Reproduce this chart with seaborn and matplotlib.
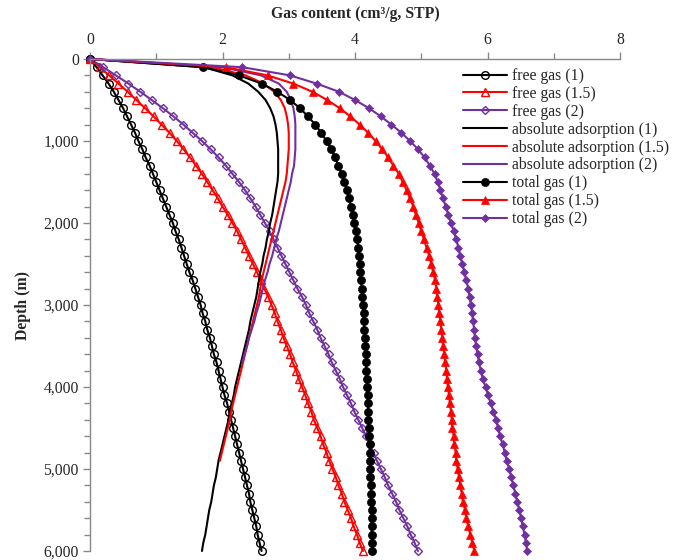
import matplotlib
matplotlib.use("Agg")
import matplotlib.pyplot as plt
import seaborn as sns
from matplotlib.ticker import FuncFormatter, MultipleLocator

depth = [0, 100, 200, 300, 400, 500, 600, 700, 800, 900, 1000, 1100, 1200, 1300, 1400,
         1500, 1600, 1700, 1800, 1900, 2000, 2100, 2200, 2300, 2400, 2500, 2600, 2700,
         2800, 2900, 3000, 3100, 3200, 3300, 3400, 3500, 3600, 3700, 3800, 3900, 4000,
         4100, 4200, 4300, 4400, 4500, 4600, 4700, 4800, 4900, 5000, 5100, 5200, 5300,
         5400, 5500, 5600, 5700, 5800, 5900, 6000]

free_1 = [0.00, 0.10, 0.19, 0.28, 0.36, 0.43, 0.50, 0.56, 0.62, 0.68, 0.73, 0.79, 0.84,
          0.90, 0.95, 1.00, 1.05, 1.10, 1.15, 1.20, 1.25, 1.29, 1.34, 1.38, 1.42, 1.46,
          1.50, 1.55, 1.59, 1.63, 1.67, 1.70, 1.74, 1.77, 1.81, 1.84, 1.87, 1.91, 1.94,
          1.97, 2.00, 2.03, 2.07, 2.10, 2.13, 2.16, 2.19, 2.22, 2.25, 2.28, 2.31, 2.34,
          2.37, 2.40, 2.42, 2.45, 2.48, 2.51, 2.53, 2.56, 2.59]

free_15 = [0.00, 0.15, 0.29, 0.43, 0.57, 0.70, 0.83, 0.96, 1.08, 1.20, 1.31, 1.41, 1.51,
           1.60, 1.69, 1.77, 1.85, 1.93, 2.00, 2.08, 2.15, 2.22, 2.28, 2.34, 2.40, 2.46,
           2.52, 2.58, 2.63, 2.69, 2.74, 2.79, 2.83, 2.88, 2.92, 2.97, 3.02, 3.06, 3.11,
           3.15, 3.20, 3.25, 3.29, 3.34, 3.38, 3.43, 3.48, 3.52, 3.57, 3.61, 3.66, 3.71,
           3.75, 3.80, 3.84, 3.89, 3.94, 3.98, 4.03, 4.07, 4.12]

free_2 = [0.00, 0.20, 0.39, 0.58, 0.76, 0.93, 1.10, 1.26, 1.41, 1.55, 1.69, 1.82, 1.94,
          2.05, 2.15, 2.25, 2.34, 2.42, 2.50, 2.57, 2.64, 2.71, 2.77, 2.83, 2.89, 2.95,
          3.01, 3.07, 3.13, 3.20, 3.26, 3.31, 3.37, 3.43, 3.48, 3.54, 3.60, 3.65, 3.71,
          3.77, 3.82, 3.88, 3.94, 3.99, 4.05, 4.11, 4.16, 4.22, 4.28, 4.33, 4.39, 4.45,
          4.50, 4.56, 4.62, 4.67, 4.73, 4.79, 4.84, 4.90, 4.95]

abs_1 = [0.00, 1.72, 2.15, 2.39, 2.54, 2.65, 2.72, 2.77, 2.80, 2.82, 2.83, 2.84, 2.84,
         2.84, 2.84, 2.83, 2.81, 2.79, 2.77, 2.75, 2.72, 2.70, 2.67, 2.65, 2.62, 2.60,
         2.57, 2.55, 2.53, 2.51, 2.48, 2.45, 2.42, 2.40, 2.37, 2.34, 2.31, 2.28, 2.25,
         2.22, 2.19, 2.17, 2.14, 2.11, 2.09, 2.06, 2.03, 2.00, 1.97, 1.94, 1.92, 1.90,
         1.87, 1.85, 1.83, 1.80, 1.78, 1.76, 1.74, 1.71, 1.69]

abs_15 = [0.00, 1.85, 2.35, 2.62, 2.78, 2.88, 2.94, 2.97, 2.99, 3.00, 3.00, 3.00, 2.99,
          2.98, 2.97, 2.95, 2.92, 2.89, 2.86, 2.83, 2.80, 2.77, 2.74, 2.71, 2.68, 2.65,
          2.62, 2.59, 2.57, 2.55, 2.52, 2.49, 2.46, 2.43, 2.40, 2.37, 2.34, 2.31, 2.28,
          2.25, 2.22, 2.19, 2.16, 2.13, 2.11, 2.08, 2.05, 2.02, 1.99, 1.96]

abs_2 = [0.00, 2.00, 2.58, 2.85, 2.97, 3.03, 3.07, 3.09, 3.10, 3.10, 3.10, 3.10, 3.09,
         3.08, 3.05, 3.03, 3.00, 2.97, 2.94, 2.91, 2.88, 2.85, 2.81, 2.78, 2.75, 2.71,
         2.68, 2.64, 2.61, 2.58, 2.55, 2.51, 2.48, 2.44, 2.40, 2.37, 2.33, 2.30]

total_1 = [0.00, 1.71, 2.25, 2.59, 2.83, 3.02, 3.17, 3.29, 3.40, 3.49, 3.57, 3.64, 3.70,
           3.75, 3.80, 3.84, 3.88, 3.91, 3.94, 3.97, 3.99, 4.01, 4.03, 4.05, 4.06, 4.07,
           4.08, 4.09, 4.10, 4.11, 4.12, 4.13, 4.13, 4.14, 4.15, 4.15, 4.16, 4.17, 4.17,
           4.18, 4.18, 4.19, 4.19, 4.20, 4.20, 4.21, 4.21, 4.22, 4.22, 4.22, 4.23, 4.23,
           4.24, 4.24, 4.24, 4.25, 4.25, 4.25, 4.25, 4.26, 4.26]

total_15 = [0.00, 2.05, 2.68, 3.07, 3.36, 3.58, 3.77, 3.93, 4.07, 4.20, 4.31, 4.41, 4.50,
            4.58, 4.66, 4.72, 4.78, 4.83, 4.88, 4.92, 4.96, 5.00, 5.04, 5.08, 5.12, 5.15,
            5.18, 5.21, 5.23, 5.24, 5.26, 5.27, 5.29, 5.30, 5.32, 5.33, 5.35, 5.36, 5.38,
            5.39, 5.40, 5.42, 5.43, 5.45, 5.46, 5.47, 5.49, 5.50, 5.52, 5.53, 5.55, 5.57,
            5.59, 5.61, 5.63, 5.66, 5.68, 5.71, 5.74, 5.77, 5.80]

total_2 = [0.00, 2.30, 3.02, 3.42, 3.76, 4.00, 4.21, 4.39, 4.55, 4.70, 4.83, 4.95, 5.05,
           5.13, 5.20, 5.25, 5.29, 5.33, 5.37, 5.41, 5.45, 5.49, 5.53, 5.56, 5.59, 5.62,
           5.65, 5.68, 5.71, 5.73, 5.75, 5.77, 5.78, 5.80, 5.81, 5.83, 5.85, 5.87, 5.90,
           5.93, 5.97, 6.01, 6.05, 6.09, 6.13, 6.16, 6.19, 6.23, 6.26, 6.29, 6.33, 6.36,
           6.39, 6.42, 6.45, 6.48, 6.51, 6.53, 6.56, 6.58, 6.60]

labels = ["free gas (1)", "free gas (1.5)", "free gas (2)",
          "absolute adsorption (1)", "absolute adsorption (1.5)", "absolute adsorption (2)",
          "total gas (1)", "total gas (1.5)", "total gas (2)"]
x_ticks = [0, 2, 4, 6, 8]

BLACK = "#000000"
RED = "#FF0000"
PURPLE = "#7030A0"

sns.set_style("white")
plt.rcParams["font.family"] = ["Liberation Serif", "DejaVu Serif"]

fig = plt.figure(figsize=(6.81, 5.60), dpi=100)
ax = fig.add_axes([90 / 681, 1 - 551 / 560, 530 / 681, 492 / 560])

series = [
    (free_1, labels[0], BLACK, dict(marker="o", markersize=5.5, markerfacecolor="none",
                                    markeredgecolor=BLACK, markeredgewidth=1.0)),
    (free_15, labels[1], RED, dict(marker="^", markersize=5.5, markerfacecolor="none",
                                   markeredgecolor=RED, markeredgewidth=1.0)),
    (free_2, labels[2], PURPLE, dict(marker="D", markersize=4.0, markerfacecolor="none",
                                     markeredgecolor=PURPLE, markeredgewidth=1.0)),
    (abs_1, labels[3], BLACK, dict()),
    (abs_15, labels[4], RED, dict()),
    (abs_2, labels[5], PURPLE, dict()),
    (total_1, labels[6], BLACK, dict(marker="o", markersize=5.8, markerfacecolor=BLACK,
                                     markeredgecolor=BLACK, markeredgewidth=0.5)),
    (total_15, labels[7], RED, dict(marker="^", markersize=6.0, markerfacecolor=RED,
                                    markeredgecolor=RED, markeredgewidth=0.5)),
    (total_2, labels[8], PURPLE, dict(marker="D", markersize=4.5, markerfacecolor=PURPLE,
                                      markeredgecolor=PURPLE, markeredgewidth=0.5)),
]

for vals, lab, col, kw in series:
    sns.lineplot(x=vals, y=depth[:len(vals)], orient="y", sort=False, estimator=None,
                 color=col, linewidth=1.5, label=lab, ax=ax, clip_on=False, **kw)

ax.set_xlim(0, 8)
ax.set_ylim(6000, 0)
ax.xaxis.tick_top()
ax.xaxis.set_label_position("top")
ax.set_xticks(x_ticks)
ax.set_xticklabels([str(t) for t in x_ticks])
ax.xaxis.set_minor_locator(MultipleLocator(1))
ax.yaxis.set_major_locator(MultipleLocator(1000))
ax.yaxis.set_minor_locator(MultipleLocator(200))
ax.yaxis.set_major_formatter(FuncFormatter(lambda v, p: f"{v:,.0f}"))

spine_col = "#898989"
for s in ["right", "bottom"]:
    ax.spines[s].set_visible(False)
for s in ["top", "left"]:
    ax.spines[s].set_color(spine_col)
    ax.spines[s].set_linewidth(1.0)

ax.tick_params(axis="both", which="both", direction="out", color=spine_col, width=1.0)
ax.tick_params(axis="both", which="major", length=5, labelsize=11.3, pad=3)
ax.tick_params(axis="both", which="minor", length=4)
ax.tick_params(axis="x", which="both", top=True, bottom=False, labeltop=True, labelbottom=False)
ax.tick_params(axis="y", which="both", left=True, right=False)

ax.set_xlabel("Gas content (cm³/g, STP)", fontsize=11.3, fontweight="bold", labelpad=10)
ax.set_ylabel("Depth (m)", fontsize=11.3, fontweight="bold", labelpad=9)

leg = ax.legend(loc="upper left", bbox_to_anchor=(463 / 681, 1 - 68 / 560),
                bbox_transform=fig.transFigure, frameon=False, fontsize=11.3,
                handlelength=2.8, handletextpad=0.35, labelspacing=0.12,
                borderaxespad=0, borderpad=0)

fig.savefig("out.png", dpi=100)
